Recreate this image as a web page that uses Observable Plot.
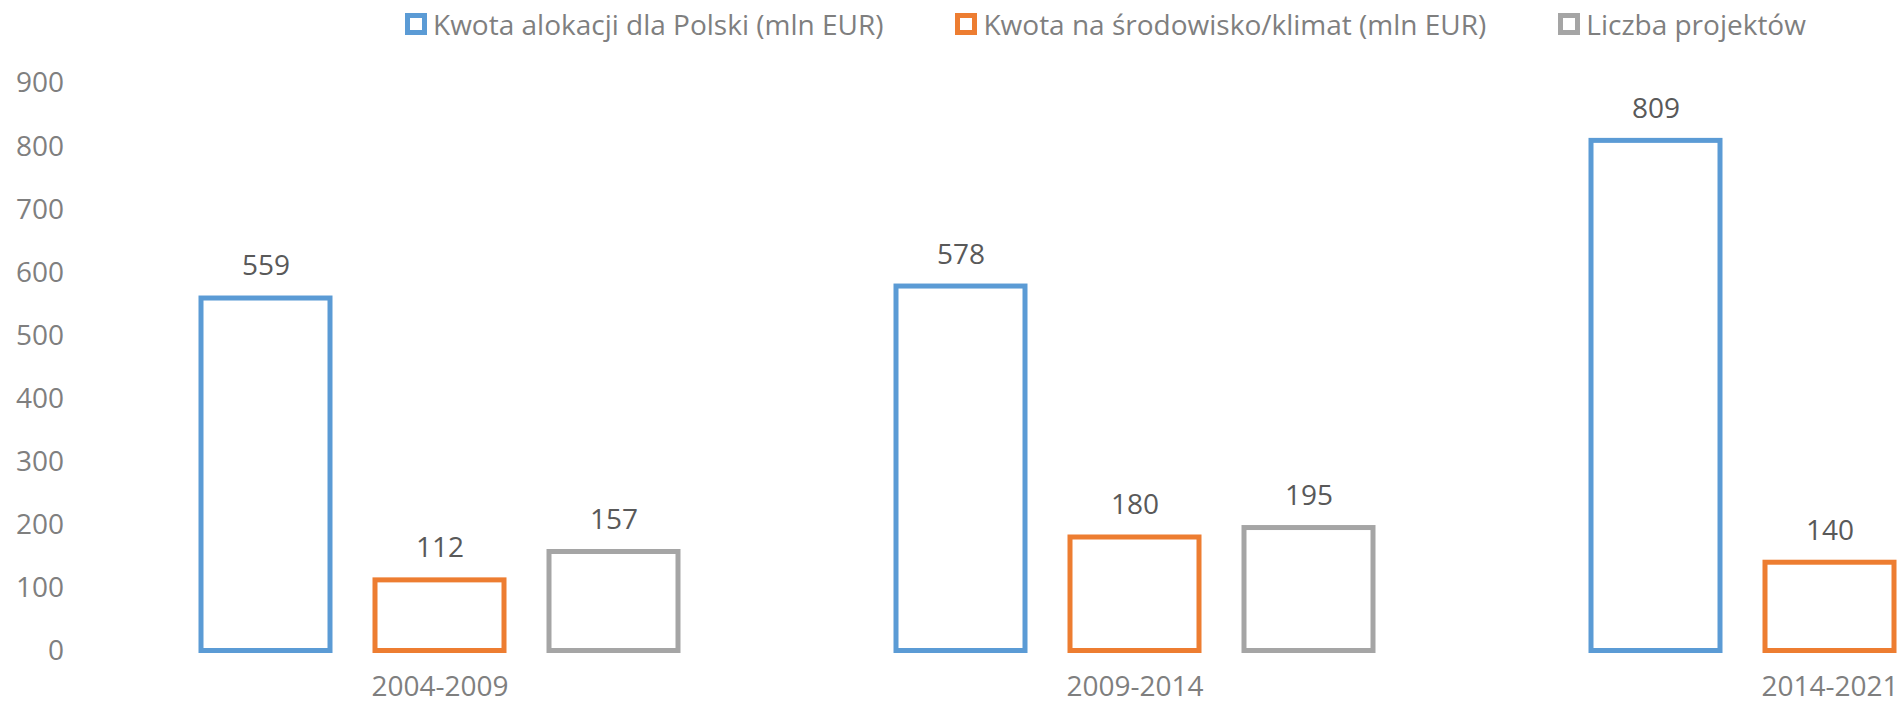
<!DOCTYPE html>
<html>
<head>
<meta charset="utf-8">
<script src="https://cdn.jsdelivr.net/npm/d3@7"></script>
<script src="https://cdn.jsdelivr.net/npm/@observablehq/plot@0.6"></script>
<style>
  html, body { margin: 0; padding: 0; background: #fff; }
  #wrap { position: relative; width: 1903px; height: 706px; overflow: hidden; font-family: "Open Sans", sans-serif; }
  #legend { position: absolute; top: 0; left: 405px; height: 48px; display: flex; align-items: center; gap: 72px; font-size: 28px; color: #7f7f7f; white-space: nowrap; }
  .item { display: flex; align-items: center; gap: 6px; }
  .swatch { width: 22px; height: 22px; box-sizing: border-box; border: 5px solid; background: #fff; }
  #chart { position: absolute; top: 0; left: 0; }
</style>
</head>
<body>
<div id="wrap">
  <div id="chart"></div>
  <div id="legend"></div>
</div>
<script>
const periods = ["2004-2009", "2009-2014", "2014-2021"];
const allocation = [559, 578, 809];
const environment = [112, 180, 140];
const projects = [157, 195, null];
const seriesNames = ["Kwota alokacji dla Polski (mln EUR)", "Kwota na środowisko/klimat (mln EUR)", "Liczba projektów"];
const seriesColors = ["#5B9BD5", "#ED7D31", "#A5A5A5"];
const yTicks = [0, 100, 200, 300, 400, 500, 600, 700, 800, 900];

const seriesValues = [allocation, environment, projects];
const offsets = [-174, 0, 174];

const marks = [];
seriesValues.forEach((vals, i) => {
  const data = periods.map((p, j) => ({period: p, value: vals[j]})).filter(d => d.value != null);
  marks.push(Plot.barY(data, {
    x: "period", y: "value", dx: offsets[i],
    insetLeft: 283, insetRight: 283,
    fill: "#fff", stroke: seriesColors[i], strokeWidth: 5
  }));
  marks.push(Plot.text(data, {
    x: "period", y: "value", dx: offsets[i], dy: -32,
    text: d => String(d.value), fill: "#595959", fontSize: 28
  }));
});

marks.push(Plot.axisY({ticks: yTicks, tickSize: 0, tickPadding: 28, label: null, fontSize: 28, tickFormat: d => String(d)}));
marks.push(Plot.axisX({tickSize: 0, tickPadding: 25, label: null, fontSize: 28}));

const chart = Plot.plot({
  width: 1903,
  height: 706,
  marginTop: 83,
  marginBottom: 55.5,
  marginLeft: 91.5,
  marginRight: 0,
  style: {fontFamily: "'Open Sans', sans-serif", fontSize: "28px", color: "#7f7f7f", background: "#fff", overflow: "visible"},
  x: {domain: periods, range: [91.5, 2176.5], padding: 0},
  y: {domain: [0, 900]},
  marks
});
document.getElementById("chart").appendChild(chart);

const legend = document.getElementById("legend");
seriesNames.forEach((name, i) => {
  const item = document.createElement("div");
  item.className = "item";
  const sw = document.createElement("div");
  sw.className = "swatch";
  sw.style.borderColor = seriesColors[i];
  const label = document.createElement("span");
  label.textContent = name;
  item.appendChild(sw);
  item.appendChild(label);
  legend.appendChild(item);
});
</script>
</body>
</html>
